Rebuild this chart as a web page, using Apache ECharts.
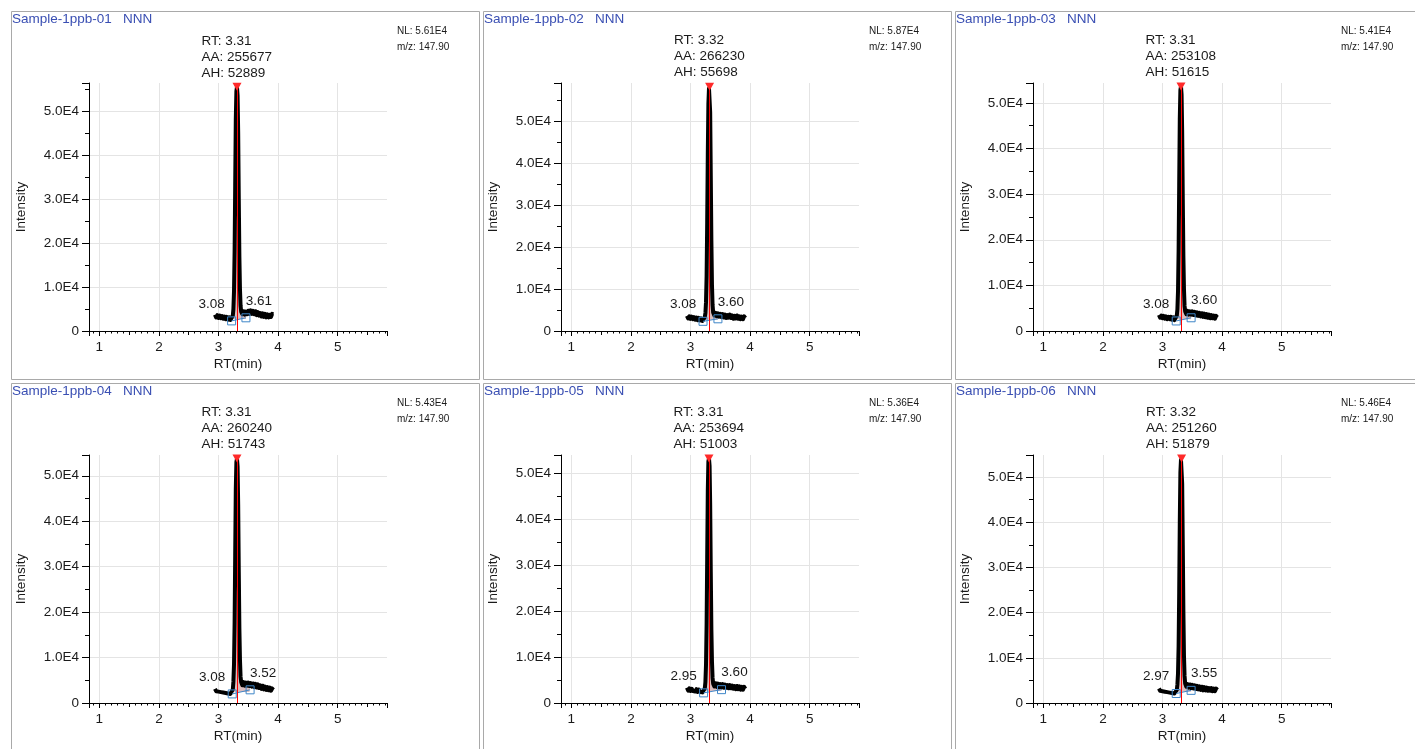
<!DOCTYPE html>
<html>
<head>
<meta charset="utf-8">
<script src="https://cdn.jsdelivr.net/npm/echarts@6/dist/echarts.min.js"></script>
<style>
html,body{margin:0;padding:0;background:#fff;}
#c{width:1415px;height:749px;}
</style>
</head>
<body>
<div id="c"></div>
<script>
// ---------- data ----------
const sampleNames = ['Sample-1ppb-01','Sample-1ppb-02','Sample-1ppb-03','Sample-1ppb-04','Sample-1ppb-05','Sample-1ppb-06'];
const compoundName = 'NNN';
const rtLabels = ['3.31','3.32','3.31','3.31','3.31','3.32'];
const aaValues = ['255677','266230','253108','260240','253694','251260'];
const ahValues = ['52889','55698','51615','51743','51003','51879'];
const nlValues = [5.61e4, 5.87e4, 5.41e4, 5.43e4, 5.36e4, 5.46e4];
const nlLabels = ['5.61E4','5.87E4','5.41E4','5.43E4','5.36E4','5.46E4'];
const mzLabel = '147.90';
const startLabels = ['3.08','3.08','3.08','3.08','2.95','2.97'];
const endLabels = ['3.61','3.60','3.60','3.52','3.60','3.55'];
const startMarks = [[3.22,2300],[3.21,2300],[3.23,2200],[3.23,2000],[3.22,2200],[3.23,2100]];
const endMarks   = [[3.46,3000],[3.46,2900],[3.48,2900],[3.53,2900],[3.52,2900],[3.48,2800]];

const rtTimes = [2.94,2.96,2.98,3.00,3.02,3.04,3.06,3.08,3.10,3.12,3.14,3.16,3.18,3.20,3.22,3.24,
  3.25,3.26,3.27,3.28,3.29,3.30,3.31,3.32,3.33,3.34,3.35,3.36,3.37,3.38,
  3.40,3.42,3.44,3.46,3.48,3.50,3.52,3.54,3.56,3.58,3.60,3.62,3.64,3.66,3.68,3.70,3.72,3.74,3.76,3.78,3.80,3.82,3.84,3.86,3.88,3.90,3.92];

const trace1 = [3700,3100,3600,3000,3500,2900,3400,2800,3300,2700,3200,2600,3100,2500,2900,3500,
  5000,9000,18000,33000,48000,54500,55500,53500,45000,30000,17000,9500,5800,4400,
  3800,4500,3700,4400,3800,4600,3900,4700,3900,4600,3800,4500,3600,4300,3500,4100,3300,4000,3200,3900,3100,3800,3100,3700,3200,3900,3800];
const trace2 = [3600,3000,3500,2900,3400,2800,3300,2700,3200,2600,3100,2500,3000,2400,2800,3300,
  4300,6800,13000,26000,42000,54000,57700,58100,52000,37000,21500,11000,6200,4400,
  3700,4300,3500,4200,3400,4100,3300,4000,3200,3900,3100,3800,3200,3900,3100,3700,2900,3600,3000,3700,2900,3500,2800,3400,2800,3500,3100];
const trace3 = [3500,2900,3400,2800,3300,2700,3200,2600,3100,2600,3100,2500,3000,2400,2800,3400,
  4800,8700,17500,32000,46500,52800,53600,51800,43500,29000,16500,9200,5500,4300,
  3700,4400,3600,4300,3600,4300,3500,4200,3400,4100,3300,4000,3200,3900,3100,3800,3000,3700,2900,3600,2800,3500,2800,3400,2700,3300,3000];
const trace4 = [3100,2600,3000,2500,2900,2400,2800,2300,2700,2200,2600,2100,2500,2000,2300,3000,
  4700,8500,17500,32500,47000,53000,53800,52000,43500,29000,16500,9500,5800,4600,
  3900,4600,3800,4500,3800,4500,3700,4400,3600,4300,3500,4200,3400,4100,3300,3900,3100,3800,3000,3600,2900,3500,2800,3400,2700,3200,2900];
const trace5 = [3300,2700,3200,2600,3100,2600,3000,2500,3000,2400,2900,2400,2800,2300,2600,3200,
  4600,8300,17000,31500,46000,52500,53100,51500,43000,28500,16000,9000,5500,4200,
  3600,4300,3500,4200,3400,4100,3400,4100,3300,4000,3300,3900,3200,3900,3200,3800,3100,3700,3000,3700,3000,3600,2900,3500,2900,3500,3100];
const trace6 = [3200,2700,3100,2600,3000,2500,2900,2400,2800,2300,2700,2200,2600,2100,2400,2900,
  4100,6500,12500,24500,40000,51000,53800,54100,48500,35000,20500,10500,6000,4300,
  3600,4200,3400,4100,3300,4000,3200,3900,3100,3800,3000,3700,2900,3600,2800,3500,2800,3400,2700,3300,2700,3300,2600,3200,2600,3200,2900];
const traces = [trace1, trace2, trace3, trace4, trace5, trace6];

const xMin = 0.827, xMax = 5.827;

// ---------- layout ----------
const PANEL_X0 = 11, PANEL_DX = 472, PANEL_Y0 = 11, PANEL_DY = 372, PANEL_W = 468, PANEL_H = 368;
const FONT = '"Liberation Sans", Arial, sans-serif';
const TXT = '#1a1a1a';
const FS = 13.5;

const grids = [], xAxes = [], yAxes = [], series = [], graphics = [];

for (let i = 0; i < 6; i++) {
  const col = i % 3, row = Math.floor(i / 3);
  const px = PANEL_X0 + PANEL_DX * col, py = PANEL_Y0 + PANEL_DY * row;

  graphics.push({type:'rect', silent:true, shape:{x:px+0.5, y:py+0.5, width:PANEL_W, height:PANEL_H},
    style:{fill:'none', stroke:'#a9a9a9', lineWidth:1}, z:0});
  graphics.push({type:'text', silent:true, x:px+1, y:py+1,
    style:{text: sampleNames[i] + '   ' + compoundName, fill:'#3a4fb3', font:FS + 'px ' + FONT,
      textVerticalAlign:'top', verticalAlign:'top'}});
  graphics.push({type:'text', silent:true, x:px+386, y:py+20,
    style:{text:'NL: ' + nlLabels[i], fill:TXT, font:'10px ' + FONT, textVerticalAlign:'middle', verticalAlign:'middle'}});
  graphics.push({type:'text', silent:true, x:px+386, y:py+36.5,
    style:{text:'m/z: ' + mzLabel, fill:TXT, font:'10px ' + FONT, textVerticalAlign:'middle', verticalAlign:'middle'}});

  grids.push({left:px+78, top:py+72, width:298, height:248});

  xAxes.push({
    type:'value', gridIndex:i, position:'bottom', min:xMin, max:xMax,
    name:'RT(min)', nameLocation:'middle', nameGap:26,
    nameTextStyle:{fontSize:FS, color:TXT, fontFamily:FONT},
    axisLine:{show:true, onZero:false, lineStyle:{color:'#000', width:1}},
    axisTick:{show:true, length:5, lineStyle:{color:'#000'}},
    minorTick:{show:true, splitNumber:10, length:2.5, lineStyle:{color:'#000'}},
    axisLabel:{show:true, fontSize:FS, color:TXT, fontFamily:FONT, margin:9, showMinLabel:false, showMaxLabel:false,
      formatter:(v)=> Number.isInteger(v) ? String(v) : ''},
    splitLine:{show:true, showMinLine:false, showMaxLine:false, lineStyle:{color:'#e4e4e4', width:1}},
    minorSplitLine:{show:false}
  });
  xAxes.push({
    type:'value', gridIndex:i, position:'bottom', min:xMin, max:xMax, splitNumber:10,
    axisLine:{show:false}, axisLabel:{show:false}, splitLine:{show:false},
    axisTick:{show:true, length:4, lineStyle:{color:'#000'}}
  });

  const yMax = nlValues[i] * 1.005;
  yAxes.push({
    type:'value', gridIndex:i, min:0, max:yMax, interval:10000,
    name:'Intensity', nameLocation:'middle', nameGap:61, nameRotate:90,
    nameTextStyle:{fontSize:FS, color:TXT, fontFamily:FONT},
    axisLine:{show:true, lineStyle:{color:'#000', width:1}},
    axisTick:{show:true, length:7, lineStyle:{color:'#000'}},
    minorTick:{show:true, splitNumber:2, length:4, lineStyle:{color:'#000'}},
    axisLabel:{show:true, fontSize:FS, color:TXT, fontFamily:FONT, margin:10, showMaxLabel:false,
      formatter:(v)=> v === 0 ? '0' : (v/10000).toFixed(1) + 'E4'},
    splitLine:{show:true, showMaxLine:false, lineStyle:{color:'#e4e4e4', width:1}}
  });

  const tr = traces[i];
  const traceData = rtTimes.map((t, k) => [t, tr[k]]);
  let apexIdx = 0;
  tr.forEach((v, k) => { if (v > tr[apexIdx]) apexIdx = k; });
  const apexY = tr[apexIdx];
  const rt = parseFloat(rtLabels[i]);
  const ls = startMarks[i], rs = endMarks[i];
  const fillData = traceData.filter(p => p[0] >= ls[0] && p[0] <= rs[0]);
  const baseY = Math.min(ls[1], rs[1]) + 400;

  series.push({
    type:'line', xAxisIndex:2*i, yAxisIndex:i, data:fillData, symbol:'none', silent:true,
    lineStyle:{width:0, opacity:0}, areaStyle:{color:'rgba(200,150,150,0.9)', origin:baseY}, z:1
  });
  series.push({
    type:'line', xAxisIndex:2*i, yAxisIndex:i, data:traceData, symbol:'none', silent:true,
    lineStyle:{color:'#000', width:4, join:'round'}, z:2
  });
  series.push({
    type:'line', xAxisIndex:2*i, yAxisIndex:i, silent:true, z:3,
    data:[
      {value:ls, label:{formatter:startLabels[i], offset:[-20,-17]}},
      {value:rs, label:{formatter:endLabels[i], offset:[13,-17]}}
    ],
    symbol:'rect', symbolSize:8, showSymbol:true,
    itemStyle:{color:'rgba(255,255,255,0)', borderColor:'#3f86c8', borderWidth:1},
    lineStyle:{color:'#3f86c8', width:1},
    label:{show:true, position:'inside', fontSize:FS, color:TXT, fontFamily:FONT},
    markLine:{
      silent:true, symbol:['none','none'], animation:false,
      label:{show:false},
      lineStyle:{color:'#ff0000', width:1, type:'solid'},
      data:[[{coord:[rt, 0]}, {coord:[rt, apexY]}]]
    },
    markPoint:{
      silent:true, animation:false,
      data:[{
        coord:[rt, apexY], symbol:'triangle', symbolRotate:180, symbolSize:[9,8],
        itemStyle:{color:'#ff2a2a'},
        label:{show:true, position:'top', distance:2, color:TXT,
          formatter:'{a|RT: ' + rtLabels[i] + '}\n{a|AA: ' + aaValues[i] + '}\n{a|AH: ' + ahValues[i] + '}',
          rich:{a:{width:71, align:'left', lineHeight:16, fontSize:FS, color:TXT, fontFamily:FONT}}}
      }]
    }
  });
}

const chart = echarts.init(document.getElementById('c'), null, {renderer:'canvas'});
chart.setOption({
  backgroundColor:'#fff',
  animation:false,
  textStyle:{fontFamily:FONT},
  grid:grids, xAxis:xAxes, yAxis:yAxes, series:series, graphic:graphics
});
</script>
</body>
</html>
